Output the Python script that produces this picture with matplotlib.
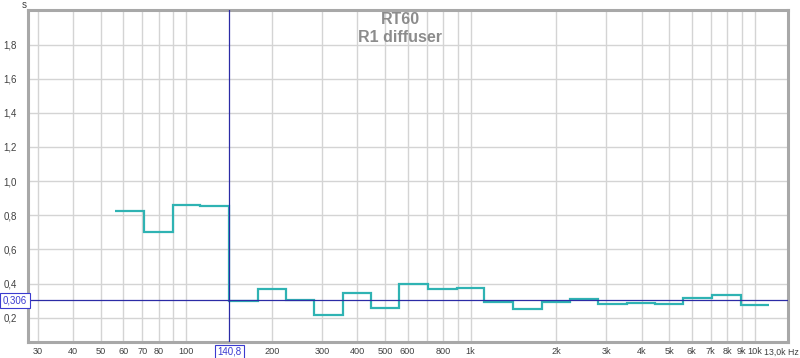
import numpy as np
import matplotlib
matplotlib.use('Agg')
import matplotlib.pyplot as plt

# 1/3 octave band centres (Hz) and RT60 (s)
bands = [63, 80, 100, 125, 160, 200, 250, 315, 400, 500, 630, 800,
         1000, 1250, 1600, 2000, 2500, 3150, 4000, 5000, 6300, 8000, 10000]
rt60 = [0.827, 0.701, 0.862, 0.853, 0.299, 0.367, 0.305, 0.213, 0.346,
        0.254, 0.398, 0.369, 0.373, 0.293, 0.252, 0.289, 0.308, 0.282,
        0.285, 0.282, 0.314, 0.330, 0.276]

xticks = [30, 40, 50, 60, 70, 80, 100, 200, 300, 400, 500, 600, 800,
          1000, 2000, 3000, 4000, 5000, 6000, 7000, 8000, 9000, 10000]
xlabels = ['30', '40', '50', '60', '70', '80', '100', '200', '300', '400',
           '500', '600', '800', '1k', '2k', '3k', '4k', '5k', '6k', '7k',
           '8k', '9k', '10k']
xgrid = [30, 40, 50, 60, 70, 80, 90, 100, 200, 300, 400, 500, 600, 700,
         800, 900, 1000, 2000, 3000, 4000, 5000, 6000, 7000, 8000, 9000,
         10000]
yticks = [0.2, 0.4, 0.6, 0.8, 1.0, 1.2, 1.4, 1.6, 1.8]

cursor_f = 140.8
cursor_t = 0.306

plt.rcParams['font.family'] = ['Liberation Sans', 'DejaVu Sans']

b = np.array(bands, dtype=float)
edges = np.concatenate([[b[0] / 10 ** 0.05], np.sqrt(b[:-1] * b[1:]),
                        [b[-1] * 10 ** 0.05]])

fig = plt.figure(figsize=(8, 3.58), dpi=100)
ax = fig.add_axes([0.035, 0.045, 0.95, 0.926])

ax.set_xscale('log')
ax.set_xlim(27.7, 13100)
ax.set_ylim(0.058, 2.0)

for f in xgrid:
    ax.axvline(f, color='#d4d4d4', lw=1, zorder=0)
for v in yticks:
    ax.axhline(v, color='#d4d4d4', lw=1, zorder=0)

ax.stairs(rt60, edges, baseline=None, color='#2fb3b3', lw=1.6, zorder=3)

ax.axhline(cursor_t, color='#2b2ba6', lw=0.9, zorder=4)
ax.axvline(cursor_f, color='#2b2ba6', lw=0.9, zorder=4)

ax.xaxis.set_major_locator(matplotlib.ticker.FixedLocator(xticks))
ax.xaxis.set_major_formatter(matplotlib.ticker.FixedFormatter(xlabels))
ax.xaxis.set_minor_locator(matplotlib.ticker.NullLocator())
ax.set_yticks(yticks)
ax.set_yticklabels([f'{v:.1f}'.replace('.', ',') for v in yticks])
ax.tick_params(axis='both', length=0, labelsize=7, labelcolor='#404040')
ax.tick_params(axis='x', pad=4, labelsize=6.6)
ax.tick_params(axis='y', pad=8)

for s in ax.spines.values():
    s.set_color('#a8a8a8')
    s.set_linewidth(2.2)

box = dict(boxstyle='square,pad=0.25', fc='white', ec='#3a3ad0', lw=0.8)
fig.text(15 / 800, 1 - 300.5 / 358, f'{cursor_t:.3f}'.replace('.', ','),
         ha='center', va='center', fontsize=7, color='#3a3ad0', bbox=box)
fig.text(229.5 / 800, 1 - 352 / 358, f'{cursor_f:.1f}'.replace('.', ','),
         ha='center', va='center', fontsize=7, color='#3a3ad0', bbox=box)
fig.text(799 / 800, 1 - 352 / 358, '13,0k Hz', ha='right', va='center',
         fontsize=6.3, color='#404040')
fig.text(24.5 / 800, 1 - 4.5 / 358, 's', ha='center', va='center',
         fontsize=7, color='#404040')

fig.text(0.5, 1 - 20 / 358, 'RT60', ha='center', va='center',
         fontsize=11.5, fontweight='bold', color='#8c8c8c')
fig.text(0.5, 1 - 37.5 / 358, 'R1 diffuser', ha='center', va='center',
         fontsize=11.5, fontweight='bold', color='#8c8c8c')

fig.savefig('out.png', dpi=100, facecolor='white')
